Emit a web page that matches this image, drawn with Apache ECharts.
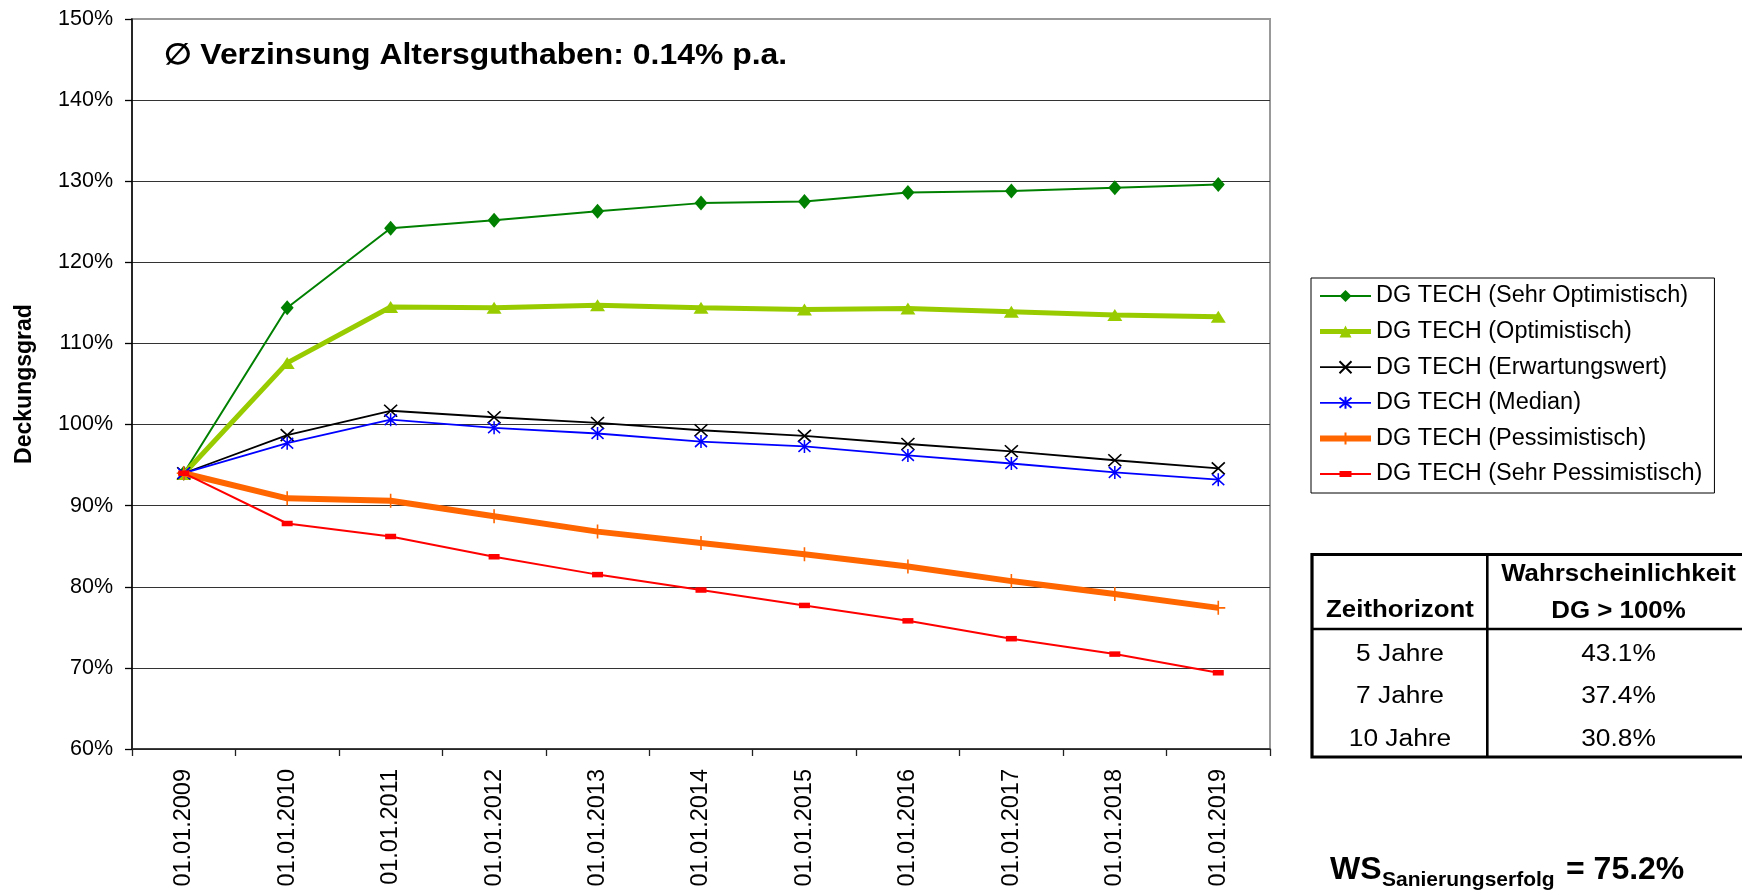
<!DOCTYPE html>
<html>
<head>
<meta charset="utf-8">
<title>Deckungsgrad DG TECH</title>
<script src="https://cdn.jsdelivr.net/npm/echarts@6/dist/echarts.min.js"></script>
<style>
  html, body { margin: 0; padding: 0; background: #ffffff; }
  #chart { width: 1742px; height: 895px; }
</style>
</head>
<body>
<div id="chart"></div>
<script>
// Stichtage
const categories = ['01.01.2009', '01.01.2010', '01.01.2011', '01.01.2012', '01.01.2013', '01.01.2014',
  '01.01.2015', '01.01.2016', '01.01.2017', '01.01.2018', '01.01.2019'];

// Deckungsgrad je Szenario (in %)
const sehrOptimistisch = [94.0, 114.4, 124.2, 125.2, 126.3, 127.3, 127.5, 128.6, 128.8, 129.2, 129.6];
const optimistisch = [93.9, 107.6, 114.5, 114.4, 114.7, 114.4, 114.2, 114.3, 113.9, 113.5, 113.3];
const erwartungswert = [94.0, 98.7, 101.7, 100.9, 100.2, 99.3, 98.6, 97.6, 96.7, 95.6, 94.6];
const median = [94.0, 97.7, 100.6, 99.6, 98.9, 97.9, 97.3, 96.2, 95.2, 94.1, 93.2];
const pessimistisch = [94.0, 90.9, 90.6, 88.7, 86.8, 85.4, 84.0, 82.5, 80.7, 79.1, 77.4];
const sehrPessimistisch = [94.0, 87.8, 86.2, 83.7, 81.5, 79.6, 77.7, 75.8, 73.6, 71.7, 69.4];

const seriesNames = [
  'DG TECH (Sehr Optimistisch)',
  'DG TECH (Optimistisch)',
  'DG TECH (Erwartungswert)',
  'DG TECH (Median)',
  'DG TECH (Pessimistisch)',
  'DG TECH (Sehr Pessimistisch)'
];

// Y-Achse
const yMin = 60, yMax = 150, yStep = 10;

// Kennzahlen-Tabelle
const tableHeaderLeft = 'Zeithorizont';
const tableHeaderRight = ['Wahrscheinlichkeit', 'DG > 100%'];
const tableHorizons = ['5 Jahre', '7 Jahre', '10 Jahre'];
const tableProbabilities = ['43.1%', '37.4%', '30.8%'];

const headline = '\u2205 Verzinsung Altersguthaben: 0.14% p.a.';
const wsMain = 'WS';
const wsSub = 'Sanierungserfolg';
const wsValue = '= 75.2%';

const FONT = '"Liberation Sans", Arial, Helvetica, sans-serif';

const chart = echarts.init(document.getElementById('chart'), null, { renderer: 'canvas' });

const transparent = 'rgba(0,0,0,0)';

// Marker shapes: cross, star (cross + vertical bar), plus, flat bar inside a square frame
const markerCross = 'path://M0,0L10,10M10,0L0,10';
const markerStar = 'path://M0,0L10,10M10,0L0,10M5,-1L5,11';
const markerPlus = 'path://M5,0L5,10M0,5L10,5';
const markerBar = 'path://M0,-2.5M0,0H10V5H0ZM10,7.5';

const seriesStyles = [
  { color: '#008000', width: 2,   symbol: 'diamond',   size: [13, 15], stroke: false },
  { color: '#99CC00', width: 5,   symbol: 'triangle',  size: [15, 12], stroke: false },
  { color: '#000000', width: 1.8, symbol: markerCross, size: [13, 12], stroke: true },
  { color: '#0000FF', width: 1.8, symbol: markerStar,  size: [12, 13], stroke: true },
  { color: '#FF6600', width: 6,   symbol: markerPlus,  size: [14, 14], stroke: true },
  { color: '#FF0000', width: 2,   symbol: markerBar,   size: [11, 11], stroke: false }
];
const seriesData = [sehrOptimistisch, optimistisch, erwartungswert, median, pessimistisch, sehrPessimistisch];

const series = seriesNames.map(function (name, i) {
  const st = seriesStyles[i];
  return {
    name: name,
    type: 'line',
    data: seriesData[i],
    symbol: st.symbol,
    symbolSize: st.size,
    z: 2 + i,
    silent: true,
    emphasis: { disabled: true },
    lineStyle: { color: st.color, width: st.width },
    itemStyle: st.stroke
      ? { color: transparent, borderColor: st.color, borderWidth: 1.6 }
      : { color: st.color, borderWidth: 0 }
  };
});

const legendData = seriesNames.map(function (name, i) {
  return { name: name, lineStyle: { color: seriesStyles[i].color, width: seriesStyles[i].width } };
});

const tableLeft = 1312, tableTop = 554.5, tableBottom = 757, tableDivX = 1487.3, tableHeadY = 629;
const colLeftX = 1400, colRightX = 1618.5;
const rowYs = [654.3, 696.7, 739.3];

const graphics = [
  {
    type: 'text', x: 164, y: 56, scaleX: 1.1,
    style: { text: headline, font: 'bold 29px ' + FONT, fill: '#000', textAlign: 'left', textVerticalAlign: 'middle' }
  },
  {
    type: 'rect', shape: { x: tableLeft, y: tableTop, width: 470, height: tableBottom - tableTop },
    style: { fill: '#fff', stroke: '#000', lineWidth: 3.2 }
  },
  {
    type: 'line', shape: { x1: tableDivX, y1: tableTop, x2: tableDivX, y2: tableBottom },
    style: { stroke: '#000', lineWidth: 2.6 }
  },
  {
    type: 'line', shape: { x1: tableLeft, y1: tableHeadY, x2: 1790, y2: tableHeadY },
    style: { stroke: '#000', lineWidth: 2.4 }
  },
  {
    type: 'text', x: colLeftX, y: 611, scaleX: 1.1,
    style: { text: tableHeaderLeft, font: 'bold 23.5px ' + FONT, fill: '#000', textAlign: 'center', textVerticalAlign: 'middle' }
  },
  {
    type: 'text', x: colRightX, y: 575, scaleX: 1.1,
    style: { text: tableHeaderRight[0], font: 'bold 23.5px ' + FONT, fill: '#000', textAlign: 'center', textVerticalAlign: 'middle' }
  },
  {
    type: 'text', x: colRightX, y: 612, scaleX: 1.1,
    style: { text: tableHeaderRight[1], font: 'bold 23.5px ' + FONT, fill: '#000', textAlign: 'center', textVerticalAlign: 'middle' }
  },
  {
    type: 'text', x: 1330, y: 870,
    style: { text: wsMain, font: 'bold 32px ' + FONT, fill: '#000', textAlign: 'left', textVerticalAlign: 'middle' }
  },
  {
    type: 'text', x: 1382, y: 880,
    style: { text: wsSub, font: 'bold 21px ' + FONT, fill: '#000', textAlign: 'left', textVerticalAlign: 'middle' }
  },
  {
    type: 'text', x: 1566, y: 870,
    style: { text: wsValue, font: 'bold 32px ' + FONT, fill: '#000', textAlign: 'left', textVerticalAlign: 'middle' }
  }
];

tableHorizons.forEach(function (h, i) {
  graphics.push({
    type: 'text', x: colLeftX, y: rowYs[i], scaleX: 1.12,
    style: { text: h, font: '23.5px ' + FONT, fill: '#000', textAlign: 'center', textVerticalAlign: 'middle' }
  });
  graphics.push({
    type: 'text', x: colRightX, y: rowYs[i], scaleX: 1.12,
    style: { text: tableProbabilities[i], font: '23.5px ' + FONT, fill: '#000', textAlign: 'center', textVerticalAlign: 'middle' }
  });
});

const option = {
  animation: false,
  backgroundColor: '#ffffff',
  textStyle: { fontFamily: FONT },
  grid: {
    left: 132, right: 472, top: 19, bottom: 146,
    show: true, borderColor: '#999999', borderWidth: 2, backgroundColor: transparent
  },
  legend: {
    orient: 'vertical',
    left: 1311, top: 278,
    padding: [5, 12, 6, 6],
    itemWidth: 51, itemHeight: 15, itemGap: 9.6,
    borderColor: '#000', borderWidth: 1,
    selectedMode: false,
    data: legendData,
    textStyle: { fontFamily: FONT, fontSize: 23.5, color: '#000', lineHeight: 26 }
  },
  xAxis: {
    type: 'category',
    data: categories,
    boundaryGap: true,
    axisLine: { lineStyle: { color: '#222', width: 1.6 } },
    axisTick: { show: true, length: 7, alignWithLabel: false, lineStyle: { color: '#222', width: 1.3 } },
    axisLabel: { rotate: 90, interval: 0, margin: 20, fontSize: 23.5, color: '#000', fontFamily: FONT },
    splitLine: { show: false }
  },
  yAxis: {
    type: 'value',
    min: yMin, max: yMax, interval: yStep,
    name: 'Deckungsgrad',
    nameLocation: 'middle',
    nameGap: 96,
    nameTextStyle: { fontFamily: FONT, fontSize: 23, fontWeight: 'bold', color: '#000' },
    axisLine: { show: true, lineStyle: { color: '#000', width: 1.5 } },
    axisTick: { show: true, length: 7, lineStyle: { color: '#000', width: 1.3 } },
    axisLabel: { formatter: '{value}%', margin: 19, fontSize: 21.5, color: '#000', fontFamily: FONT },
    splitLine: { show: true, showMaxLine: false, lineStyle: { color: '#333', width: 1.2 } }
  },
  series: series,
  graphic: graphics
};

chart.setOption(option);
</script>
</body>
</html>
